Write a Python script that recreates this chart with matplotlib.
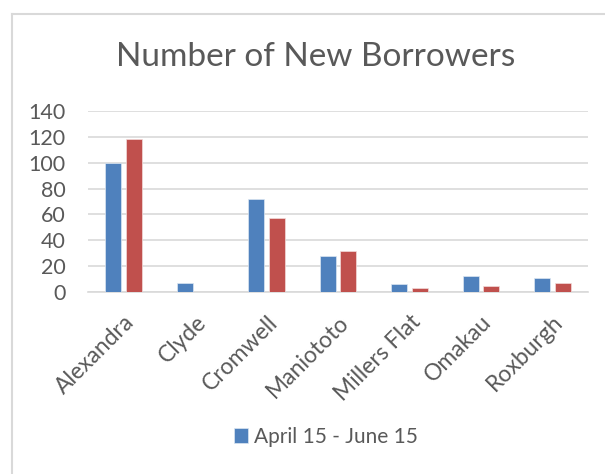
import matplotlib.pyplot as plt
import numpy as np
from matplotlib.lines import Line2D

towns = ['Alexandra', 'Clyde', 'Cromwell', 'Maniototo', 'Millers Flat', 'Omakau', 'Roxburgh']
apr_jun = [100, 7, 72, 28, 6, 12, 11]
other = [118, 0, 57, 32, 3, 5, 7]
yticks = [0, 20, 40, 60, 80, 100, 120, 140]

txt = '#595959'
plt.rcParams['font.family'] = ['Lato', 'DejaVu Sans']

fig = plt.figure(figsize=(6.05, 4.74), dpi=100)
ax = fig.add_axes([88/605, 1 - 292/474, 500/605, 181/474])

x = np.arange(len(towns))
w = 0.224
ax.bar(x - 0.145, apr_jun, w, color='#4F81BD', edgecolor='#dce6f2', linewidth=0.5,
       label='April 15 - June 15', zorder=3)
ax.bar(x + 0.145, other, w, color='#C0504D', edgecolor='#f2dcdb', linewidth=0.5, zorder=3)

ax.set_xlim(-0.5, len(towns) - 0.5)
ax.set_ylim(0, 140)
ax.set_yticks(yticks)
ax.set_xticks(x)
ax.set_xticklabels(towns, rotation=45, ha='right', rotation_mode='anchor', fontsize=16.5)
ax.tick_params(axis='both', length=0, labelcolor=txt)
ax.tick_params(axis='y', pad=16, labelsize=15.5)
ax.tick_params(axis='x', pad=14)
ax.grid(axis='y', color='#D9D9D9', linewidth=1.2, zorder=0)
for s in ['top', 'right', 'left']:
    ax.spines[s].set_visible(False)
ax.spines['bottom'].set_color('#D9D9D9')
ax.spines['bottom'].set_linewidth(1.2)

fig.text(316/605, 1 - 57/474, 'Number of New Borrowers', ha='center', va='center',
         fontsize=24, color=txt)

h, l = ax.get_legend_handles_labels()
fig.legend(h, l, loc='center', bbox_to_anchor=(326/605, 1 - 437/474), frameon=False,
           fontsize=15, labelcolor=txt, handlelength=0.7, handleheight=0.7,
           handletextpad=0.3)

# outer chart border (cut off at right and bottom)
fig.add_artist(Line2D([12/605, 1], [1 - 14/474] * 2, color='#D9D9D9', lw=1.5))
fig.add_artist(Line2D([12/605] * 2, [0, 1 - 14/474], color='#D9D9D9', lw=1.5))

fig.savefig('out.png', dpi=100)
